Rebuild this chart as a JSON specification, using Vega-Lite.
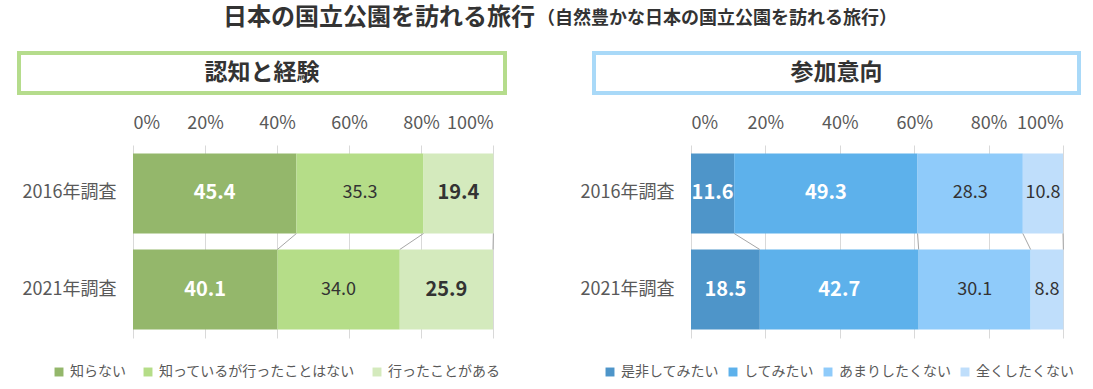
{
  "$schema": "https://vega.github.io/schema/vega-lite/v6.json",
  "padding": {"left": 17, "top": 3, "right": 0, "bottom": 0},
  "autosize": {"type": "pad"},
  "config": {"view": {"stroke": null}, "font": "Noto Sans CJK JP"},
  "datasets": {
    "a": [
      {"year": "2016年調査", "cat": "知らない", "o": 1, "v": 45.4},
      {"year": "2016年調査", "cat": "知っているが行ったことはない", "o": 2, "v": 35.3},
      {"year": "2016年調査", "cat": "行ったことがある", "o": 3, "v": 19.4},
      {"year": "2021年調査", "cat": "知らない", "o": 1, "v": 40.1},
      {"year": "2021年調査", "cat": "知っているが行ったことはない", "o": 2, "v": 34.0},
      {"year": "2021年調査", "cat": "行ったことがある", "o": 3, "v": 25.9}
    ],
    "b": [
      {"year": "2016年調査", "cat": "是非してみたい", "o": 1, "v": 11.6},
      {"year": "2016年調査", "cat": "してみたい", "o": 2, "v": 49.3},
      {"year": "2016年調査", "cat": "あまりしたくない", "o": 3, "v": 28.3},
      {"year": "2016年調査", "cat": "全くしたくない", "o": 4, "v": 10.8},
      {"year": "2021年調査", "cat": "是非してみたい", "o": 1, "v": 18.5},
      {"year": "2021年調査", "cat": "してみたい", "o": 2, "v": 42.7},
      {"year": "2021年調査", "cat": "あまりしたくない", "o": 3, "v": 30.1},
      {"year": "2021年調査", "cat": "全くしたくない", "o": 4, "v": 8.8}
    ]
  },
  "spacing": 18,
  "vconcat": [
    {
      "width": 1036,
      "height": 30,
      "data": {"values": [{"t1": "日本の国立公園を訪れる旅行", "t2": "（自然豊かな日本の国立公園を訪れる旅行）"}]},
      "layer": [
        {"mark": {"type": "text", "align": "right", "baseline": "middle", "fontSize": 24, "fontWeight": "bold", "color": "#333333", "dx": -2}, "encoding": {"text": {"field": "t1"}}},
        {"mark": {"type": "text", "align": "left", "baseline": "middle", "fontSize": 18, "fontWeight": "bold", "color": "#333333", "dy": 1, "dx": 0}, "encoding": {"text": {"field": "t2"}}}
      ]
    },
    {
      "spacing": 85,
      "hconcat": [
        {
          "width": 486, "height": 40,
          "view": {"stroke": "#b5dc8c", "strokeWidth": 4},
          "data": {"values": [{"t": "認知と経験"}]},
          "mark": {"type": "text", "baseline": "middle", "fontSize": 23, "fontWeight": "bold", "color": "#333333"},
          "encoding": {"text": {"field": "t"}}
        },
        {
          "width": 485, "height": 40,
          "view": {"stroke": "#a9d9f8", "strokeWidth": 4},
          "data": {"values": [{"t": "参加意向"}]},
          "mark": {"type": "text", "baseline": "middle", "fontSize": 23, "fontWeight": "bold", "color": "#333333"},
          "encoding": {"text": {"field": "t"}}
        }
      ]
    },
    {
      "spacing": 101,
      "bounds": "flush",
      "resolve": {"scale": {"color": "independent", "x": "independent", "y": "independent"}, "legend": {"color": "independent"}},
      "hconcat": [
        {
          "width": 474, "height": 193,
          "data": {"name": "a"},
          "layer": [
            {
              "mark": {"type": "bar"},
              "encoding": {
                "y": {"field": "year", "type": "nominal", "scale": {"domain": ["2016年調査", "2021年調査"], "paddingInner": 0.1667, "paddingOuter": 0.0885},
                  "axis": {"title": null, "ticks": false, "domain": false, "offset": -114, "labelPadding": 17, "labelFontSize": 18, "labelColor": "#595959"}},
                "x": {"field": "v", "type": "quantitative", "stack": "zero", "scale": {"domain": [0, 100], "nice": false, "range": [114, 474]},
                  "axis": {"orient": "top", "title": null, "values": [0, 20, 40, 60, 80, 100], "labelExpr": "datum.value + '%'", "grid": true, "gridColor": "#d9d9d9", "domain": false, "ticks": false, "labelPadding": 13, "labelFontSize": 18, "labelColor": "#595959", "minExtent": 32, "maxExtent": 32}},
                "color": {"field": "cat", "type": "nominal", "scale": {"domain": ["知らない", "知っているが行ったことはない", "行ったことがある"], "range": ["#94b76b", "#b5dd88", "#d4eabd"]},
                  "legend": {"orient": "none", "legendX": 33, "legendY": 220, "direction": "horizontal", "title": null, "labelFontSize": 14, "labelColor": "#595959", "labelLimit": 400, "symbolType": "square", "symbolSize": 80, "symbolStrokeWidth": 0, "columnPadding": 15, "labelOffset": 4}},
                "order": {"field": "o"}
              }
            },
            {
              "mark": {"type": "text", "baseline": "middle", "fontWeight": {"expr": "datum.cat === '知っているが行ったことはない' ? 'normal' : 'bold'"}, "fontSize": {"expr": "datum.cat === '知っているが行ったことはない' ? 18 : 20"}},
              "encoding": {
                "y": {"field": "year", "type": "nominal"},
                "x": {"field": "v", "type": "quantitative", "stack": "zero", "bandPosition": 0.5},
                "detail": {"field": "cat"},
                "order": {"field": "o"},
                "text": {"field": "v", "format": ".1f"},
                "color": {"condition": {"test": "datum.cat === '知らない'", "value": "#ffffff"}, "value": "#333333"}
              }
            },
            {
              "transform": [
                {"stack": "v", "groupby": ["year"], "sort": [{"field": "o", "order": "ascending"}], "as": ["s", "e"]},
                {"pivot": "year", "value": "e", "groupby": ["cat"]}
              ],
              "mark": {"type": "rule", "color": "#a6a6a6", "strokeWidth": 1},
              "encoding": {
                "x": {"field": "2016年調査", "type": "quantitative"},
                "x2": {"field": "2021年調査"},
                "y": {"datum": "2016年調査", "type": "nominal", "bandPosition": 1},
                "y2": {"datum": "2021年調査", "bandPosition": 0}
              }
            }
          ]
        },
        {
          "width": 469, "height": 193,
          "data": {"name": "b"},
          "layer": [
            {
              "mark": {"type": "bar"},
              "encoding": {
                "y": {"field": "year", "type": "nominal", "scale": {"domain": ["2016年調査", "2021年調査"], "paddingInner": 0.1667, "paddingOuter": 0.0885},
                  "axis": {"title": null, "ticks": false, "domain": false, "offset": -97, "labelPadding": 17, "labelFontSize": 18, "labelColor": "#595959"}},
                "x": {"field": "v", "type": "quantitative", "stack": "zero", "scale": {"domain": [0, 100], "nice": false, "range": [97, 469]},
                  "axis": {"orient": "top", "title": null, "values": [0, 20, 40, 60, 80, 100], "labelExpr": "datum.value + '%'", "grid": true, "gridColor": "#d9d9d9", "domain": false, "ticks": false, "labelPadding": 13, "labelFontSize": 18, "labelColor": "#595959", "minExtent": 32, "maxExtent": 32}},
                "color": {"field": "cat", "type": "nominal", "scale": {"domain": ["是非してみたい", "してみたい", "あまりしたくない", "全くしたくない"], "range": ["#4e95c9", "#5db1eb", "#8fcbfa", "#bfdefb"]},
                  "legend": {"orient": "none", "legendX": 9, "legendY": 220, "direction": "horizontal", "title": null, "labelFontSize": 14, "labelColor": "#595959", "labelLimit": 400, "symbolType": "square", "symbolSize": 80, "symbolStrokeWidth": 0, "columnPadding": 7, "labelOffset": 4}},
                "order": {"field": "o"}
              }
            },
            {
              "mark": {"type": "text", "baseline": "middle", "fontWeight": {"expr": "datum.o <= 2 ? 'bold' : 'normal'"}, "fontSize": {"expr": "datum.o <= 2 ? 20 : 18"}},
              "encoding": {
                "y": {"field": "year", "type": "nominal"},
                "x": {"field": "v", "type": "quantitative", "stack": "zero", "bandPosition": 0.5},
                "detail": {"field": "cat"},
                "order": {"field": "o"},
                "text": {"field": "v", "format": ".1f"},
                "color": {"condition": {"test": "datum.o <= 2", "value": "#ffffff"}, "value": "#333333"}
              }
            },
            {
              "transform": [
                {"stack": "v", "groupby": ["year"], "sort": [{"field": "o", "order": "ascending"}], "as": ["s", "e"]},
                {"pivot": "year", "value": "e", "groupby": ["cat"]}
              ],
              "mark": {"type": "rule", "color": "#a6a6a6", "strokeWidth": 1},
              "encoding": {
                "x": {"field": "2016年調査", "type": "quantitative"},
                "x2": {"field": "2021年調査"},
                "y": {"datum": "2016年調査", "type": "nominal", "bandPosition": 1},
                "y2": {"datum": "2021年調査", "bandPosition": 0}
              }
            }
          ]
        }
      ]
    }
  ]
}
